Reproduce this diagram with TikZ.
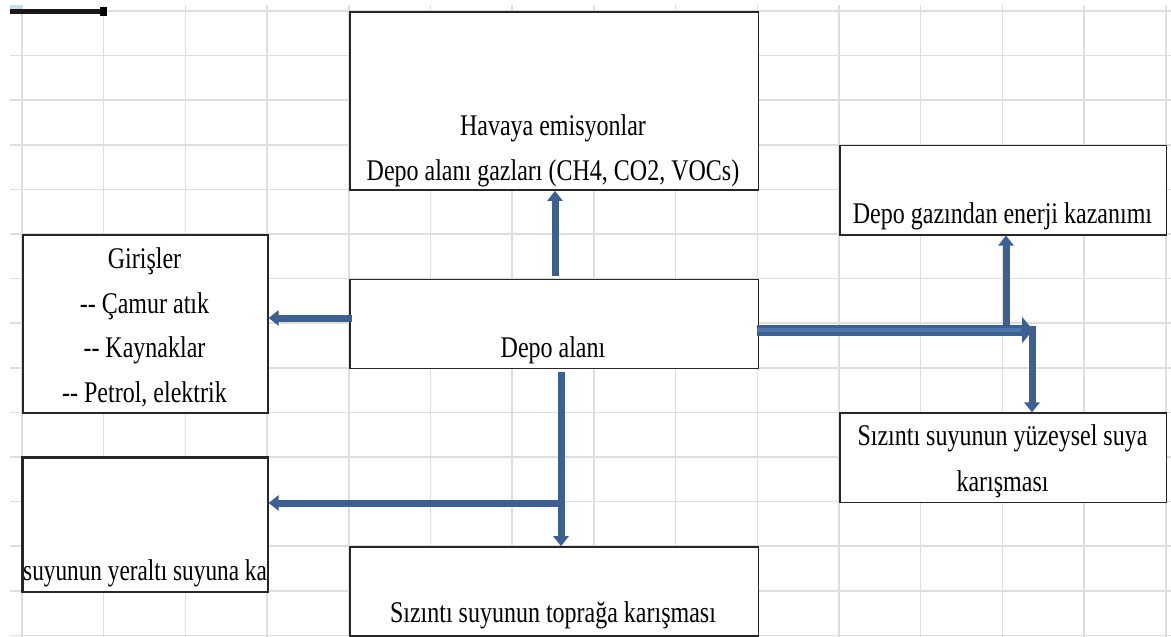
\documentclass[tikz,border=0pt]{standalone}
\usepackage{fontspec}
\setmainfont{Liberation Serif}[FakeStretch=0.8]
\usetikzlibrary{arrows.meta}
\definecolor{gridgray}{RGB}{222,222,222}
\definecolor{arrowblue}{RGB}{61,95,145}
\definecolor{arrowlight}{RGB}{78,116,172}
\definecolor{cornerblue}{RGB}{200,220,240}

\begin{document}
\begin{tikzpicture}[x=1pt,y=-1pt,
  gridline/.style={draw=gridgray,line width=1.5pt},
  box/.style={draw=black!85,line width=1.5pt,fill=white,inner sep=0pt,anchor=north west},
  txt/.style={anchor=base,inner sep=0pt,font=\fontsize{30}{36}\selectfont},
  flow/.style={draw=arrowblue,line width=7pt,-{Triangle[width=15pt,length=10pt]}},
  mainflow/.style={draw=arrowblue,line width=11pt,-{Triangle[width=26pt,length=11pt]}},
  mainstripe/.style={draw=arrowlight,line width=3.5pt}]

% page and spreadsheet grid
\useasboundingbox (0,0) rectangle (1171,637);
\fill[white] (0,0) rectangle (1171,637);
\foreach \k in {0,...,14} {
  \draw[gridline] ({22+81.7*\k},5) -- ({22+81.7*\k},637);
  \draw[gridline] (10,{11+44.6*\k}) -- (1171,{11+44.6*\k});
}
\fill[cornerblue] (10,5) rectangle (22,9);
\draw[black!90,line width=5pt] (10,11) -- (102,11);
\fill[black] (100,6.5) rectangle (107,15.5);

% boxes
\node[box,minimum width=408.5pt,minimum height=178.4pt] (havaya) at (349,11) {};
\node[box,minimum width=245.1pt,minimum height=178.4pt] (girdi) at (22,234) {};
\node[box,minimum width=408.5pt,minimum height=89.2pt] (depo) at (349,278.6) {};
\node[box,minimum width=326.8pt,minimum height=89.2pt] (enerji) at (839,144.8) {};
\node[box,minimum width=326.8pt,minimum height=89.2pt] (yuzey) at (839,412.4) {};
\node[box,minimum width=245.1pt,minimum height=133.8pt] (yeralti) at (22,457) {};
\node[box,minimum width=408.5pt,minimum height=89.2pt] (toprak) at (349,546.2) {};

% texts
\node[txt] (havaya1) at (553,135) {Havaya emisyonlar};
\node[txt] (havaya2) at (553,180) {Depo alanı gazları (CH4, CO2, VOCs)};
\node[txt] (g1) at (144.5,268) {Girişler};
\node[txt] (g2) at (144.5,313) {-\kern0pt- Çamur atık};
\node[txt] (g3) at (144.5,357) {-\kern0pt- Kaynaklar};
\node[txt] (g4) at (144.5,402) {-\kern0pt- Petrol, elektrik};
\node[txt] (depotxt) at (553,357) {Depo alanı};
\node[txt] (enerjitxt) at (1002.5,223) {Depo gazından enerji kazanımı};
\node[txt] (yuzey1) at (1002.5,445) {Sızıntı suyunun yüzeysel suya};
\node[txt] (yuzey2) at (1002.5,491) {karışması};
\begin{scope}
  \clip (yeralti.north west) rectangle (yeralti.south east);
  \node[txt,anchor=base west] (yeraltitxt) at (23,580) {\scalebox{0.97}[1]{suyunun yeraltı suyuna ka}};
\end{scope}
\draw[draw=black!85,line width=1.5pt] (yeralti.north west) rectangle (yeralti.south east);
\node[txt] (topraktxt) at (553,622) {Sızıntı suyunun toprağa karışması};

% flows
\coordinate (upstart) at (555,276);
\draw[flow] (upstart) -- (upstart |- havaya.south);
\coordinate (lstart) at (352,318);
\draw[flow] (lstart) -- (lstart -| girdi.east);
\coordinate (dstart) at (561,372);
\draw[flow] (dstart) -- (dstart |- toprak.north);
\coordinate (branch) at (561,503);
\draw[flow] (branch) -- (branch -| yeralti.east);

\coordinate (rstart) at (757,330);
\coordinate (rend) at (1033,330);
\draw[mainflow] (rstart) -- (rend);
\draw[mainstripe] (rstart) -- ([xshift=-12pt]rend);
\coordinate (upE) at (1006,326);
\draw[flow] (upE) -- (upE |- enerji.south);
\coordinate (dnE) at (1032,326);
\draw[flow] (dnE) -- (dnE |- yuzey.north);
\end{tikzpicture}
\end{document}
